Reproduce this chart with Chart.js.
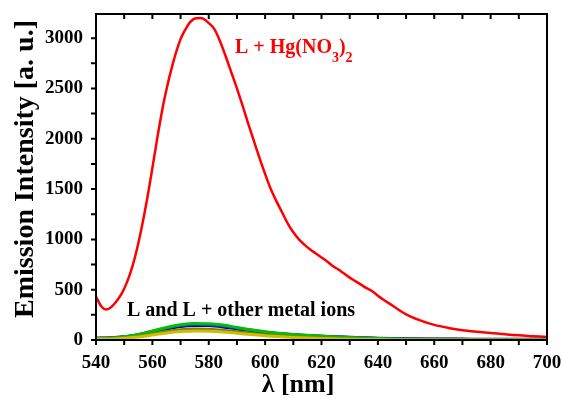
<!DOCTYPE html>
<html>
<head>
<meta charset="utf-8">
<script src="https://cdn.jsdelivr.net/npm/chart.js@4/dist/chart.umd.min.js"></script>
<style>
html, body { margin: 0; padding: 0; background: #fff; }
</style>
</head>
<body>
<canvas id="chart" width="563" height="399"></canvas>
<script>
// L + Hg(NO3)2 emission spectrum
const hgWavelengths = [540, 542, 543.5, 545, 547, 549, 551, 553, 555, 557, 558, 559, 560, 561, 562, 563, 564, 565, 566, 567, 568, 569, 570, 571, 572, 573, 574, 575, 577, 578, 580, 582, 584, 586, 588, 590, 592, 594, 596, 598, 600, 602, 604, 606, 608, 610, 612, 614, 616, 618, 620, 622, 624, 626, 628, 630, 632, 634, 636, 638, 640, 642, 645, 650, 655, 660, 665, 670, 675, 680, 685, 690, 695, 700];
const hgIntensity = [430, 330, 303, 318, 375, 455, 575, 740, 960, 1230, 1380, 1540, 1710, 1880, 2050, 2210, 2360, 2490, 2610, 2720, 2820, 2910, 2990, 3050, 3100, 3145, 3175, 3195, 3200, 3195, 3150, 3090, 2970, 2820, 2660, 2500, 2330, 2150, 1980, 1810, 1650, 1500, 1380, 1270, 1160, 1070, 1000, 945, 900, 860, 820, 780, 735, 700, 660, 620, 585, 550, 515, 485, 440, 400, 345, 255, 195, 150, 120, 97, 82, 70, 57, 46, 38, 30];

// L and L + other metal ions
const ionWavelengths = [540, 545, 550, 555, 560, 565, 570, 575, 580, 585, 590, 595, 600, 610, 620, 630, 640, 650, 660, 670, 680, 690, 700];
const yellowIon = [8, 11, 18, 30, 50, 70, 84, 90, 88, 80, 67, 54, 42, 26, 15, 8, 4, 2, 1, 1, 1, 1, 1];
const oliveIon = [10, 14, 22, 36, 60, 85, 102, 110, 108, 98, 82, 66, 52, 33, 20, 12, 6, 3, 2, 1, 1, 1, 1];
const greenIon = [15, 20, 32, 55, 90, 125, 152, 165, 162, 148, 125, 102, 82, 55, 38, 25, 15, 8, 5, 4, 3, 3, 3];
const blueIon = [16, 21, 31, 52, 84, 117, 143, 155, 152, 138, 117, 96, 78, 53, 37, 26, 16, 10, 7, 6, 5, 5, 5];
const navyIon = [18, 22, 32, 50, 80, 110, 135, 145, 143, 130, 110, 92, 75, 52, 38, 27, 18, 12, 10, 9, 8, 8, 8];

const xTicks = [540, 560, 580, 600, 620, 640, 660, 680, 700];
const yTicks = [0, 500, 1000, 1500, 2000, 2500, 3000];

const FONT = "'Liberation Serif', 'Times New Roman', serif";

function pairs(xs, ys) {
    return ys.map((y, i) => ({ x: xs[i], y: y }));
}

function ionSet(values, color) {
    return {
        data: pairs(ionWavelengths, values),
        borderColor: color,
        borderWidth: 3,
        pointRadius: 0,
        cubicInterpolationMode: "monotone",
    };
}

// frame, minor/mirrored ticks and the text labels
const decorations = {
    id: "decorations",
    afterDraw(chart) {
        const ctx = chart.ctx;
        const a = chart.chartArea;
        const xs = chart.scales.x;
        const ys = chart.scales.y;
        ctx.save();
        ctx.strokeStyle = "#000";
        ctx.lineWidth = 2;
        ctx.strokeRect(a.left, a.top, a.right - a.left, a.bottom - a.top);

        ctx.beginPath();
        for (let v = 540; v <= 700; v += 10) {
            const px = xs.getPixelForValue(v);
            ctx.moveTo(px, a.bottom);
            ctx.lineTo(px, a.bottom + 5);
            ctx.moveTo(px, a.top);
            ctx.lineTo(px, a.top + 5);
        }
        for (let v = 0; v <= 3240; v += 250) {
            const py = ys.getPixelForValue(v);
            ctx.moveTo(a.left, py);
            ctx.lineTo(a.left - 5, py);
        }
        ctx.stroke();

        // red label
        ctx.fillStyle = "#ff0000";
        ctx.textBaseline = "alphabetic";
        ctx.textAlign = "left";
        ctx.font = "bold 20px " + FONT;
        let tx = 235;
        const main = "L + Hg(NO";
        ctx.fillText(main, tx, 53);
        tx += ctx.measureText(main).width;
        ctx.font = "bold 14px " + FONT;
        ctx.fillText("3", tx, 62);
        tx += ctx.measureText("3").width;
        ctx.font = "bold 20px " + FONT;
        ctx.fillText(")", tx, 53);
        tx += ctx.measureText(")").width;
        ctx.font = "bold 14px " + FONT;
        ctx.fillText("2", tx, 62);

        // black label
        ctx.fillStyle = "#000";
        ctx.font = "bold 20px " + FONT;
        ctx.fillText("L and L + other metal ions", 127, 316);

        // axis titles
        ctx.font = "bold 26px " + FONT;
        ctx.textAlign = "center";
        ctx.fillText("\u03bb [nm]", 298, 392);
        ctx.font = "bold 28px " + FONT;
        ctx.translate(33, 169);
        ctx.rotate(-Math.PI / 2);
        ctx.fillText("Emission Intensity [a. u.]", 0, 0);
        ctx.restore();
    },
};

new Chart(document.getElementById("chart").getContext("2d"), {
    type: "line",
    data: {
        datasets: [
            ionSet(yellowIon, "#c8c000"),
            ionSet(oliveIon, "#8a7a00"),
            ionSet(greenIon, "#00c000"),
            ionSet(blueIon, "#0030ff"),
            ionSet(navyIon, "#000090"),
            {
                data: pairs(hgWavelengths, hgIntensity),
                borderColor: "#ff0000",
                borderWidth: 2.5,
                pointRadius: 0,
                cubicInterpolationMode: "monotone",
            },
        ],
    },
    options: {
        responsive: false,
        animation: false,
        layout: { padding: { left: 0, top: 14, right: 16, bottom: 0 } },
        plugins: { legend: { display: false }, tooltip: { enabled: false } },
        scales: {
            x: {
                type: "linear",
                min: 540,
                max: 700,
                afterBuildTicks: (s) => { s.ticks = xTicks.map((v) => ({ value: v })); },
                afterFit: (s) => {
                    s.height = 59;
                    s.paddingLeft = 0;
                    s.paddingRight = 0;
                },
                ticks: { color: "#000", font: { family: FONT, size: 19, weight: "bold" }, padding: 12, maxRotation: 0 },
                grid: { drawOnChartArea: false, drawTicks: false },
                border: { display: false },
            },
            y: {
                min: 0,
                max: 3240,
                afterBuildTicks: (s) => { s.ticks = yTicks.map((v) => ({ value: v })); },
                afterFit: (s) => {
                    s.width = 96;
                    s.paddingTop = 0;
                    s.paddingBottom = 0;
                },
                ticks: { color: "#000", font: { family: FONT, size: 19, weight: "bold" }, padding: 13, callback: (v) => String(v) },
                grid: { drawOnChartArea: false, drawTicks: false },
                border: { display: false },
            },
        },
    },
    plugins: [decorations],
});
</script>
</body>
</html>
